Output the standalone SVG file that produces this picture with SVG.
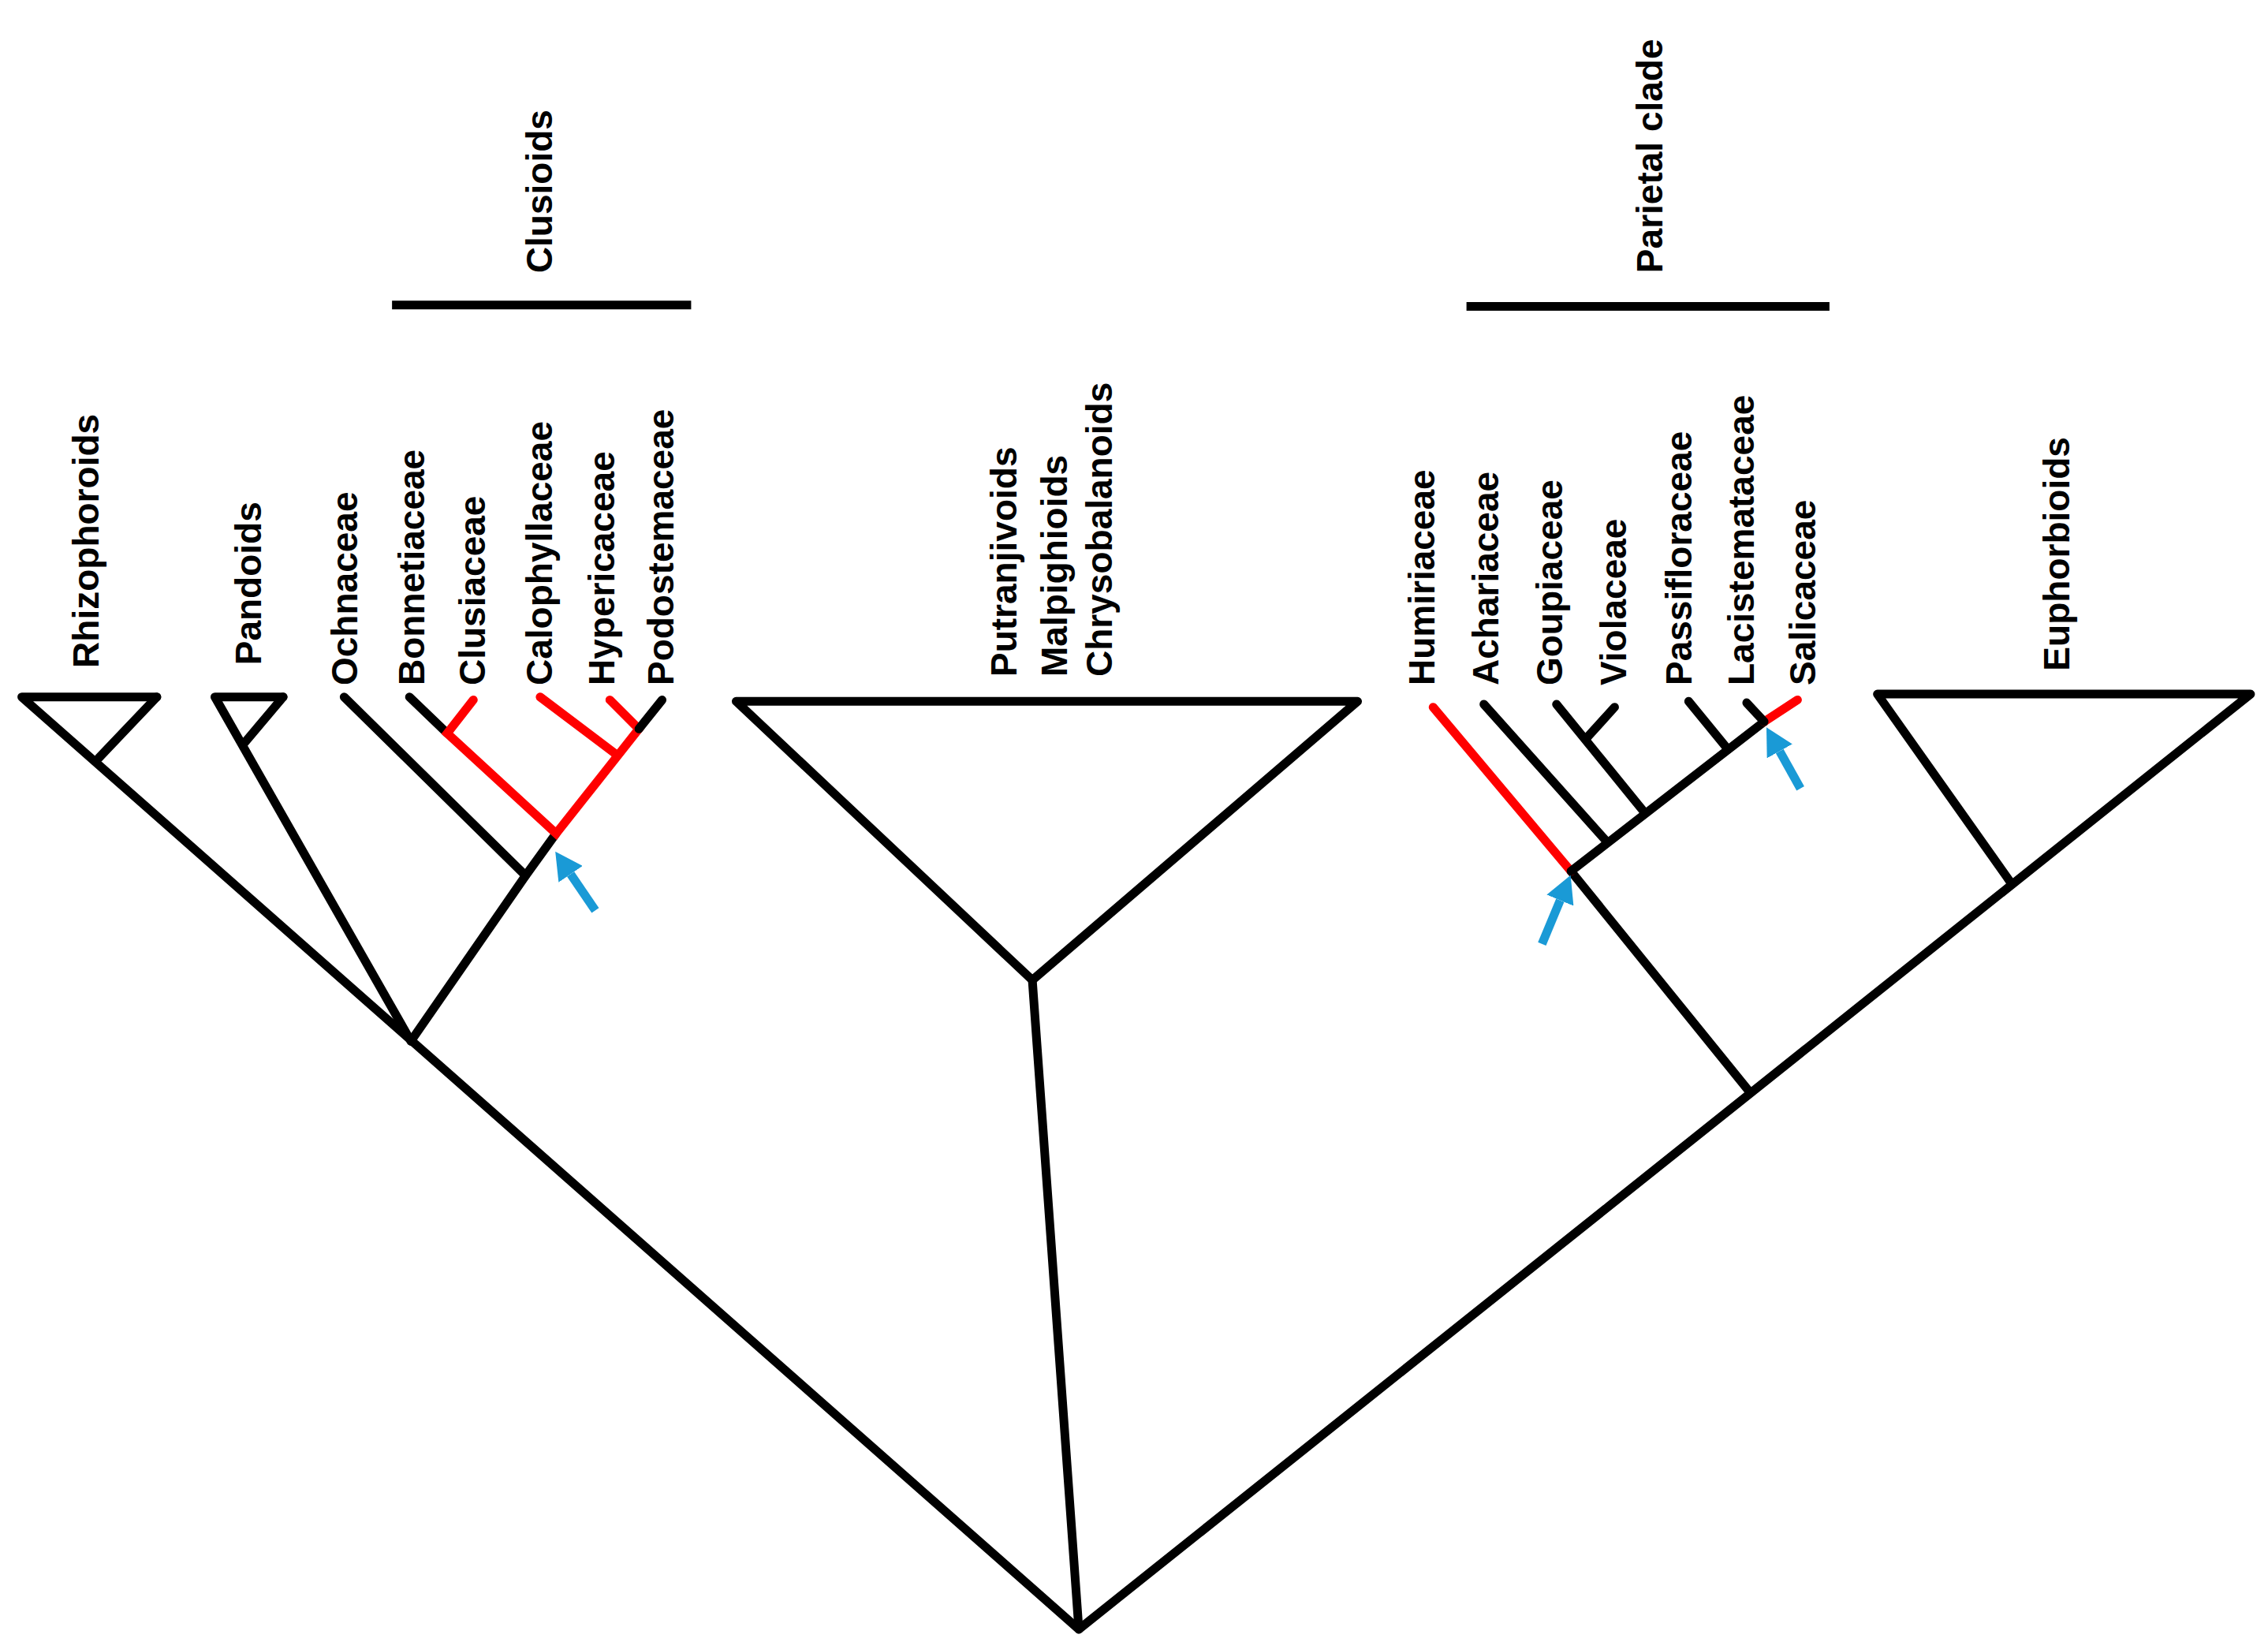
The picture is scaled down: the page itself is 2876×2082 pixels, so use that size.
<svg xmlns="http://www.w3.org/2000/svg" width="2876" height="2082" viewBox="0 0 2876 2082">
<style>
.b{stroke:#000;stroke-width:6;fill:none;stroke-linecap:round;stroke-linejoin:round}
.r{stroke:#f00;stroke-width:6;fill:none;stroke-linecap:round}
.a{stroke:#1a9ad6;stroke-width:6;fill:none}
text{font-family:"Liberation Sans",Arial,sans-serif;font-weight:bold;font-size:25px;fill:#000}
</style>
<defs>
<marker id="ah" markerUnits="userSpaceOnUse" markerWidth="20" markerHeight="20" refX="0" refY="8" orient="auto" viewBox="0 0 16 16">
<path d="M0,0 L15,8 L0,16 z" fill="#1a9ad6"/>
</marker>
</defs>
<rect width="2876" height="2082" fill="#fff"/>
<g transform="scale(1.8412)">
<g id="connectors">
<polyline class="b" points="108,480 15,480 743,1122 1550,478 1293,478 1385,608"/>
<line class="b" x1="108" y1="480" x2="68" y2="522"/>
<polyline class="b" points="195,480 148,480 283,717"/>
<line class="b" x1="195" y1="480" x2="168" y2="512"/>
<polyline class="b" points="283,717 362,603 383,574"/>
<line class="b" x1="237" y1="480" x2="362" y2="603"/>
<line class="b" x1="282" y1="480" x2="308" y2="505"/>
<polyline class="r" points="326,482 308,505 383,574 440,502 420,482"/>
<line class="r" x1="372" y1="480" x2="425" y2="520"/>
<line class="b" x1="440" y1="502" x2="456" y2="482"/>
<polygon class="b" points="507,483 935,483 711,675"/>
<line class="b" x1="711" y1="675" x2="743" y2="1122"/>
<line class="b" x1="1205" y1="752" x2="1082" y2="600"/>
<line class="r" x1="1082" y1="600" x2="987" y2="487"/>
<line class="b" x1="1082" y1="600" x2="1215" y2="497"/>
<line class="r" x1="1215" y1="497" x2="1238" y2="482"/>
<line class="b" x1="1022" y1="485" x2="1107" y2="580"/>
<line class="b" x1="1072" y1="485" x2="1133" y2="560"/>
<line class="b" x1="1112" y1="487" x2="1093" y2="508"/>
<line class="b" x1="1163" y1="483" x2="1190" y2="516"/>
<line class="b" x1="1203" y1="484" x2="1215" y2="497"/>
<line class="b" x1="270" y1="210" x2="476" y2="210" style="stroke-linecap:butt"/>
<line class="b" x1="1010" y1="211" x2="1260" y2="211" style="stroke-linecap:butt"/>
<line class="a" x1="410" y1="627" x2="393" y2="602" marker-end="url(#ah)"/>
<line class="a" x1="1062" y1="650" x2="1074.5" y2="620" marker-end="url(#ah)"/>
<line class="a" x1="1240" y1="543" x2="1225.7" y2="517.3" marker-end="url(#ah)"/>
</g>
<g id="n-rhizophoroids"><text transform="translate(68,460) rotate(-90)">Rhizophoroids</text></g>
<g id="n-pandoids"><text transform="translate(180,458) rotate(-90)">Pandoids</text></g>
<g id="n-ochnaceae"><text transform="translate(246,472) rotate(-90)">Ochnaceae</text></g>
<g id="n-bonnetiaceae"><text transform="translate(292,472) rotate(-90)">Bonnetiaceae</text></g>
<g id="n-clusiaceae"><text transform="translate(334,472) rotate(-90)">Clusiaceae</text></g>
<g id="n-calophyllaceae"><text transform="translate(380,472) rotate(-90)">Calophyllaceae</text></g>
<g id="n-hypericaceae"><text transform="translate(423,472) rotate(-90)">Hypericaceae</text></g>
<g id="n-podostemaceae"><text transform="translate(464,472) rotate(-90)">Podostemaceae</text></g>
<g id="n-clusioids"><text transform="translate(380,188) rotate(-90)">Clusioids</text></g>
<g id="n-pmc">
<text transform="translate(700,466) rotate(-90)">Putranjivoids</text>
<text transform="translate(735,466) rotate(-90)">Malpighioids</text>
<text transform="translate(766,466) rotate(-90)">Chrysobalanoids</text>
</g>
<g id="n-parietal"><text transform="translate(1145,188) rotate(-90)">Parietal clade</text></g>
<g id="n-humiriaceae"><text transform="translate(988,472) rotate(-90)">Humiriaceae</text></g>
<g id="n-achariaceae"><text transform="translate(1032,472) rotate(-90)">Achariaceae</text></g>
<g id="n-goupiaceae"><text transform="translate(1076,472) rotate(-90)">Goupiaceae</text></g>
<g id="n-violaceae"><text transform="translate(1120,472) rotate(-90)">Violaceae</text></g>
<g id="n-passifloraceae"><text transform="translate(1165,472) rotate(-90)">Passifloraceae</text></g>
<g id="n-lacistemataceae"><text transform="translate(1208,472) rotate(-90)">Lacistemataceae</text></g>
<g id="n-salicaceae"><text transform="translate(1250,472) rotate(-90)">Salicaceae</text></g>
<g id="n-euphorbioids"><text transform="translate(1425,462) rotate(-90)">Euphorbioids</text></g>
</g>
</svg>
